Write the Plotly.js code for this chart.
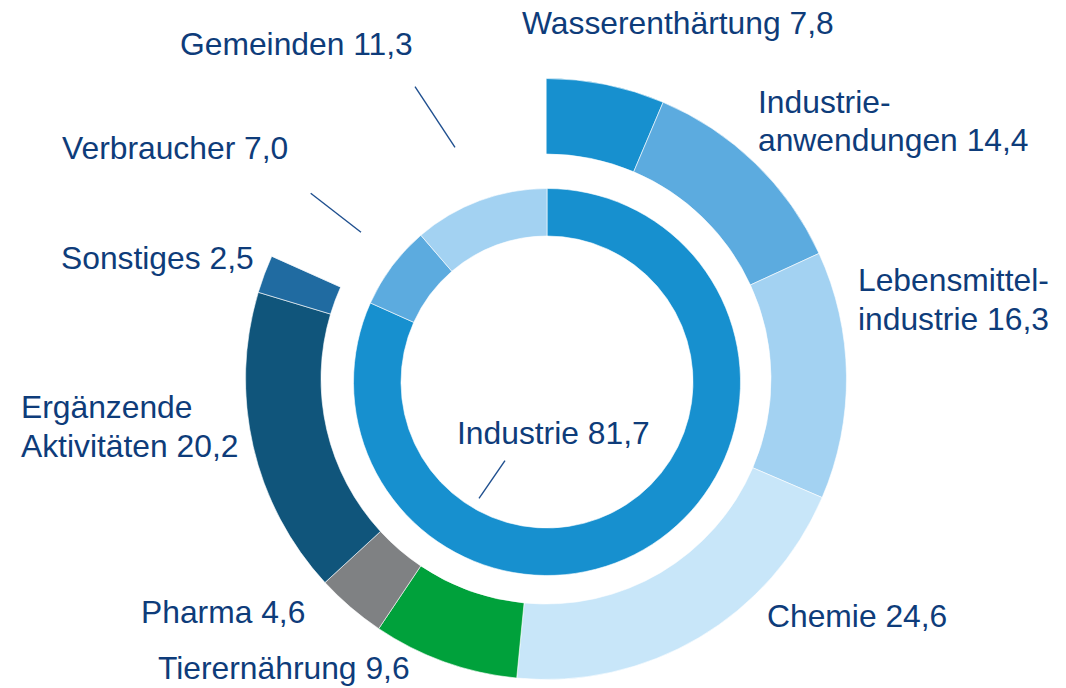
<!DOCTYPE html>
<html>
<head>
<meta charset="utf-8">
<script src="https://cdn.plot.ly/plotly-3.0.1.min.js"></script>
<style>
  html, body { margin: 0; padding: 0; background: #ffffff; }
  #chart { width: 1066px; height: 688px; }
</style>
</head>
<body>
<div id="chart"></div>
<script>
// ---- Data ----
const innerLabels = ['Industrie', 'Verbraucher', 'Gemeinden'];
const innerValues = [81.7, 7.0, 11.3];
const innerColors = ['#1790cf', '#5cabdf', '#a3d2f2'];

const outerLabels = ['Wasserenthärtung', 'Industrieanwendungen', 'Lebensmittelindustrie', 'Chemie',
                     'Tierernährung', 'Pharma', 'Ergänzende Aktivitäten', 'Sonstiges'];
const outerValues = [7.8, 14.4, 16.3, 24.6, 9.6, 4.6, 20.2, 2.5];
const outerColors = ['#1790cf', '#5cabdf', '#a3d2f2', '#c8e6f9',
                     '#00a13b', '#7f8183', '#10557b', '#206ba1'];

// Display texts (German number format)
const fmt = v => v.toFixed(1).replace('.', ',');
const outerTexts = [
  'Wasserenthärtung ' + fmt(outerValues[0]),
  'Industrie-<br>anwendungen ' + fmt(outerValues[1]),
  'Lebensmittel-<br>industrie ' + fmt(outerValues[2]),
  'Chemie ' + fmt(outerValues[3]),
  'Tierernährung ' + fmt(outerValues[4]),
  'Pharma ' + fmt(outerValues[5]),
  'Ergänzende<br>Aktivitäten ' + fmt(outerValues[6]),
  'Sonstiges ' + fmt(outerValues[7])
];
const innerTexts = [
  'Industrie ' + fmt(innerValues[0]),
  'Verbraucher ' + fmt(innerValues[1]),
  'Gemeinden ' + fmt(innerValues[2])
];

// The outer ring spans only the Industrie share of the circle; the rest is an empty gap.
const outerTotal = outerValues.reduce((a, b) => a + b, 0);
const outerGap = outerTotal * (100 - innerValues[0]) / innerValues[0];

// ---- Layout helpers (pixel -> paper) ----
const W = 1066, H = 688;
const px = x => x / W;
const py = y => 1 - y / H;

function domainFor(cx, cy, r) {
  return { x: [px(cx - r), px(cx + r)], y: [py(cy + r), py(cy - r)] };
}

const outerTrace = {
  type: 'pie',
  labels: outerLabels.concat(['']),
  values: outerValues.concat([outerGap]),
  marker: { colors: outerColors.concat(['rgba(0,0,0,0)']), line: { width: 0.6, color: '#ffffff' } },
  hole: 225 / 300.5,
  domain: domainFor(546, 379, 300.5),
  sort: false,
  direction: 'clockwise',
  rotation: 0,
  textinfo: 'none',
  hoverinfo: 'label+value',
  showlegend: false
};

const innerTrace = {
  type: 'pie',
  labels: innerLabels,
  values: innerValues,
  marker: { colors: innerColors, line: { width: 0.6, color: '#ffffff' } },
  hole: 146 / 193.5,
  domain: domainFor(547, 382, 193.5),
  sort: false,
  direction: 'clockwise',
  rotation: 0,
  textinfo: 'none',
  hoverinfo: 'label+value',
  showlegend: false
};

const textColor = '#0e3c7a';
const fontSize = 31.8;
const lineGap = 38.5;

// label positions: [text, left px, center y px of first line]
const labelPos = [
  [outerTexts[0], 521.5, 23.3],
  [outerTexts[1], 758, 101.7],
  [outerTexts[2], 858, 280],
  [outerTexts[3], 766.5, 616],
  [outerTexts[4], 158, 668.3],
  [outerTexts[5], 140.5, 611.7],
  [outerTexts[6], 20.5, 407.3],
  [outerTexts[7], 60.5, 258],
  [innerTexts[1], 62, 148.3],
  [innerTexts[2], 180, 44],
  [innerTexts[0], 457, 433]
];

const annotations = [];
labelPos.forEach(([t, x, y]) => {
  t.split('<br>').forEach((line, i) => {
    annotations.push({
      text: line,
      xref: 'paper', yref: 'paper',
      x: px(x), y: py(y + i * lineGap),
      xanchor: 'left', yanchor: 'middle',
      align: 'left',
      showarrow: false,
      borderpad: 0, borderwidth: 0,
      font: { family: 'Liberation Sans, Arial, sans-serif', size: fontSize, color: textColor }
    });
  });
});

const leaderLines = [
  [415, 86.7, 455, 147.3],
  [310.7, 193.3, 361, 232.3],
  [505, 460.7, 479, 498.3]
];
const shapes = leaderLines.map(([x0, y0, x1, y1]) => ({
  type: 'line', xref: 'paper', yref: 'paper',
  x0: px(x0), y0: py(y0), x1: px(x1), y1: py(y1),
  line: { color: '#1f4f8f', width: 1.4 }
}));

const layout = {
  width: W, height: H,
  margin: { l: 0, r: 0, t: 0, b: 0, pad: 0 },
  paper_bgcolor: '#ffffff',
  plot_bgcolor: '#ffffff',
  showlegend: false,
  annotations: annotations,
  shapes: shapes
};

Plotly.newPlot('chart', [outerTrace, innerTrace], layout, { displayModeBar: false, staticPlot: true });
</script>
</body>
</html>
